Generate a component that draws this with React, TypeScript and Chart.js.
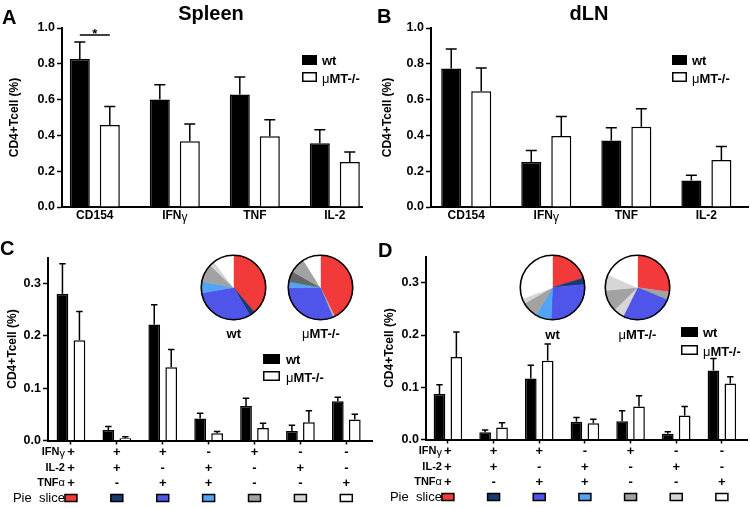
import React, { useEffect, useRef } from "react";
import { Chart, registerables } from "chart.js";

Chart.register(...registerables);

const FONT = "'Liberation Sans', Arial, Helvetica, sans-serif";
Chart.defaults.font.family = FONT;
Chart.defaults.color = "#000";

// ---------------- data ----------------
const seriesNames = ["wt", "μMT-/-"];
const yAxisTitle = "CD4+Tcell (%)";

const cytokineCategories = ["CD154", "IFNγ", "TNF", "IL-2"];
const abYTicks = [0, 0.2, 0.4, 0.6, 0.8, 1.0];

const spleenWt = [0.827, 0.6, 0.629, 0.356];
const spleenWtSem = [0.095, 0.083, 0.097, 0.076];
const spleenMu = [0.458, 0.367, 0.395, 0.251];
const spleenMuSem = [0.104, 0.097, 0.093, 0.056];

const dlnWt = [0.774, 0.252, 0.371, 0.148];
const dlnWtSem = [0.109, 0.063, 0.072, 0.03];
const dlnMu = [0.646, 0.397, 0.449, 0.262];
const dlnMuSem = [0.13, 0.108, 0.1, 0.076];

const cdYTicks = [0, 0.1, 0.2, 0.3];
const tableRowLabels = ["IFNγ", "IL-2", "TNFα"];
const ifngRow = ["+", "+", "+", "-", "+", "-", "-"];
const il2Row = ["+", "+", "-", "+", "-", "+", "-"];
const tnfRow = ["+", "-", "+", "+", "-", "-", "+"];
const pieSliceLabel = "Pie  slice";

const spleenPolyWt = [0.281, 0.02, 0.222, 0.042, 0.066, 0.018, 0.075];
const spleenPolyWtSem = [0.057, 0.007, 0.038, 0.01, 0.015, 0.011, 0.008];
const spleenPolyMu = [0.192, 0.0045, 0.14, 0.014, 0.024, 0.035, 0.04];
const spleenPolyMuSem = [0.055, 0.0025, 0.034, 0.003, 0.009, 0.022, 0.01];

const dlnPolyWt = [0.087, 0.014, 0.117, 0.034, 0.035, 0.011, 0.132];
const dlnPolyWtSem = [0.018, 0.004, 0.025, 0.008, 0.02, 0.004, 0.023];
const dlnPolyMu = [0.158, 0.023, 0.151, 0.031, 0.063, 0.046, 0.107];
const dlnPolyMuSem = [0.048, 0.009, 0.032, 0.008, 0.021, 0.017, 0.013];

// ---------------- styles ----------------
const RED = "#f23a3a";
const NAVY = "#183a72";
const BLUE = "#4f55e8";
const LBLUE = "#52a4f6";
const GRAY = "#a2a2a2";
const LGRAY = "#d6d6d6";
const DGRAY = "#666666";
const WHITE = "#ffffff";
const sliceBoxColors = [RED, NAVY, BLUE, LBLUE, GRAY, LGRAY, WHITE];

// ---------------- helpers ----------------
function drawRich(ctx: CanvasRenderingContext2D, text: string, x: number, y: number, align: string, size: number) {
  const parts: any[] = [];
  for (const ch of text) {
    const greek = "αγμ".includes(ch);
    const last = parts[parts.length - 1];
    if (last && last.greek === greek) last.t += ch;
    else parts.push({ t: ch, greek });
  }
  const fontOf = (p: any) => `${p.greek ? "normal" : "bold"} ${size}px ${FONT}`;
  let total = 0;
  parts.forEach((p) => {
    ctx.font = fontOf(p);
    p.w = ctx.measureText(p.t).width;
    total += p.w;
  });
  let cx = align === "left" ? x : align === "center" ? x - total / 2 : x - total;
  ctx.textAlign = "left";
  parts.forEach((p) => {
    ctx.font = fontOf(p);
    ctx.fillText(p.t, cx, y + (p.t.includes("γ") ? size * 0.2 : 0));
    cx += p.w;
  });
}

const errorBars = {
  id: "errorBars",
  afterDatasetsDraw(chart: any) {
    const ctx = chart.ctx;
    const ys = chart.scales.y;
    chart.data.datasets.forEach((ds: any, di: number) => {
      const meta = chart.getDatasetMeta(di);
      meta.data.forEach((el: any, j: number) => {
        const v = ds.data[j].y;
        const top = ys.getPixelForValue(v + ds.sem[j]);
        const cap = el.width * 0.55;
        ctx.save();
        ctx.strokeStyle = "#000";
        ctx.lineWidth = 1.5;
        ctx.beginPath();
        ctx.moveTo(el.x, el.y);
        ctx.lineTo(el.x, top);
        ctx.moveTo(el.x - cap / 2, top);
        ctx.lineTo(el.x + cap / 2, top);
        ctx.stroke();
        ctx.restore();
      });
    });
  },
};

function makeDecor(cfg: any) {
  return {
    id: "decor",
    afterDraw(chart: any) {
      const ctx = chart.ctx;
      const xs = chart.scales.x;
      const area = chart.chartArea;
      ctx.save();
      ctx.fillStyle = "#000";
      ctx.textBaseline = "alphabetic";
      // panel letter
      ctx.font = `bold 20px ${FONT}`;
      ctx.textAlign = "left";
      ctx.fillText(cfg.letter.text, cfg.letter.x, cfg.letter.y);
      if (cfg.title) {
        ctx.textAlign = "center";
        ctx.fillText(cfg.title.text, cfg.title.x, cfg.title.y);
      }
      // y title
      ctx.save();
      ctx.translate(cfg.yTitleX, (area.top + area.bottom) / 2);
      ctx.rotate(-Math.PI / 2);
      ctx.font = `bold 12px ${FONT}`;
      ctx.textAlign = "center";
      ctx.textBaseline = "middle";
      ctx.fillText(yAxisTitle, 0, 0);
      ctx.restore();

      const n = cfg.wt.length;
      const centers = Array.from({ length: n }, (_, i) => xs.getPixelForValue(i));

      if (cfg.categories) {
        ctx.textBaseline = "alphabetic";
        cfg.categories.forEach((c: string, i: number) => {
          drawRich(ctx, c, centers[i], area.bottom + cfg.catLabelDy, "center", 12);
        });
      }

      if (cfg.table) {
        const rows = [ifngRow, il2Row, tnfRow];
        const labelRight = centers[0] - 6;
        ctx.textBaseline = "middle";
        rows.forEach((row, r) => {
          const y = area.bottom + cfg.table[r];
          drawRich(ctx, tableRowLabels[r], labelRight, y, "right", 11);
          ctx.font = `bold 13px ${FONT}`;
          ctx.textAlign = "center";
          row.forEach((s, i) => ctx.fillText(s, centers[i], y));
        });
        const py = area.bottom + cfg.table[3];
        ctx.font = `normal 13px ${FONT}`;
        ctx.textAlign = "right";
        ctx.fillText(pieSliceLabel, labelRight, py);
        sliceBoxColors.forEach((col, i) => {
          ctx.fillStyle = col;
          ctx.fillRect(centers[i] - 6, py - 3.5, 12, 7);
          ctx.strokeStyle = "#000";
          ctx.lineWidth = 1.5;
          ctx.strokeRect(centers[i] - 6, py - 3.5, 12, 7);
        });
        ctx.fillStyle = "#000";
      }

      // legend
      const L = cfg.legend;
      ctx.fillStyle = "#000";
      ctx.fillRect(L.x, L.y1, L.w, L.h);
      ctx.fillStyle = "#fff";
      ctx.fillRect(L.x, L.y2, L.w, L.h);
      ctx.strokeStyle = "#000";
      ctx.lineWidth = 1.5;
      ctx.strokeRect(L.x + 0.75, L.y2 + 0.75, L.w - 1.5, L.h - 1.5);
      ctx.fillStyle = "#000";
      ctx.textBaseline = "alphabetic";
      drawRich(ctx, seriesNames[0], L.textX, L.y1 + L.h, "left", 13);
      drawRich(ctx, seriesNames[1], L.textX, L.y2 + L.h + 0.5, "left", 13);

      if (cfg.pieLabels) {
        cfg.pieLabels.forEach((p: any, i: number) => drawRich(ctx, seriesNames[i], p.x, p.y, "center", 13));
      }

      if (cfg.sig) {
        const x0 = chart.getDatasetMeta(0).data[0].x;
        const x1 = chart.getDatasetMeta(1).data[0].x;
        ctx.strokeStyle = "#000";
        ctx.lineWidth = 1.5;
        ctx.beginPath();
        ctx.moveTo(x0, cfg.sig.y);
        ctx.lineTo(x1, cfg.sig.y);
        ctx.stroke();
        ctx.font = `bold 13px ${FONT}`;
        ctx.textAlign = "center";
        ctx.fillText("*", (x0 + x1) / 2, cfg.sig.y + 3);
      }
      ctx.restore();
    },
  };
}

function BarPanel({ cfg }: { cfg: any }) {
  const ref = useRef<HTMLCanvasElement>(null);
  useEffect(() => {
    const idx = cfg.wt.map((_: number, i: number) => i);
    const chart = new Chart(ref.current as HTMLCanvasElement, {
      type: "bar",
      data: {
        datasets: [
          {
            label: seriesNames[0],
            data: idx.map((i: number) => ({ x: i, y: cfg.wt[i] })),
            backgroundColor: "#000",
            borderColor: "#000",
            borderWidth: 1.5,
            sem: cfg.wtSem,
          } as any,
          {
            label: seriesNames[1],
            data: idx.map((i: number) => ({ x: i, y: cfg.mu[i] })),
            backgroundColor: "#fff",
            borderColor: "#000",
            borderWidth: 1.5,
            sem: cfg.muSem,
          } as any,
        ],
      },
      options: {
        responsive: false,
        animation: false,
        events: [],
        layout: { padding: { left: 0, top: cfg.area.top, right: cfg.width - cfg.area.right, bottom: 0 } },
        datasets: { bar: { categoryPercentage: cfg.catPct, barPercentage: cfg.barPct } },
        plugins: { legend: { display: false }, tooltip: { enabled: false }, title: { display: false } },
        scales: {
          x: {
            type: "linear",
            min: cfg.xMin,
            max: cfg.xMax,
            offset: false,
            afterBuildTicks: (s: any) => {
              s.ticks = idx.map((v: number) => ({ value: v }));
            },
            afterFit: (s: any) => {
              s.height = cfg.height - cfg.area.bottom;
            },
            ticks: { display: false },
            grid: {
              display: true,
              offset: false,
              drawOnChartArea: false,
              drawTicks: cfg.xTickMarks,
              tickLength: 4,
              tickWidth: 1.5,
              tickColor: "#000",
            },
            border: { display: true, color: "#000", width: 2 },
          },
          y: {
            min: 0,
            max: cfg.yMax,
            afterBuildTicks: (s: any) => {
              s.ticks = cfg.yTicks.map((v: number) => ({ value: v }));
            },
            afterFit: (s: any) => {
              s.width = cfg.area.left;
            },
            ticks: {
              callback: (v: any) => Number(v).toFixed(1),
              font: { size: 12.5, weight: "bold" },
              color: "#000",
              padding: 2,
            },
            grid: {
              display: true,
              drawOnChartArea: false,
              drawTicks: true,
              tickLength: 5,
              tickWidth: 1.5,
              tickColor: "#000",
            },
            border: { display: true, color: "#000", width: 2 },
          },
        } as any,
      },
      plugins: [errorBars, makeDecor(cfg)],
    });
    return () => chart.destroy();
  }, []);
  return (
    <canvas
      ref={ref}
      width={cfg.width}
      height={cfg.height}
      style={{ position: "absolute", left: cfg.left, top: cfg.top, width: cfg.width, height: cfg.height }}
    />
  );
}

const pieOutline = {
  id: "pieOutline",
  afterDatasetsDraw(chart: any) {
    const el = chart.getDatasetMeta(0).data[0];
    if (!el) return;
    const ctx = chart.ctx;
    ctx.save();
    ctx.strokeStyle = "#000";
    ctx.lineWidth = 1.6;
    ctx.beginPath();
    ctx.arc(el.x, el.y, el.outerRadius, 0, Math.PI * 2);
    ctx.stroke();
    ctx.restore();
  },
};

function PieCanvas({ cfg }: { cfg: any }) {
  const ref = useRef<HTMLCanvasElement>(null);
  const pad = 3;
  const size = Math.round(cfg.r * 2 + pad * 2);
  useEffect(() => {
    const chart = new Chart(ref.current as HTMLCanvasElement, {
      type: "pie",
      data: {
        labels: tableRowLabels.concat(["a", "b", "c", "d"]),
        datasets: [
          {
            data: cfg.values,
            backgroundColor: cfg.colors,
            borderColor: cfg.colors,
            borderWidth: 0.5,
          },
        ],
      },
      options: {
        responsive: false,
        animation: false,
        events: [],
        layout: { padding: pad },
        plugins: { legend: { display: false }, tooltip: { enabled: false } },
      },
      plugins: [pieOutline],
    });
    return () => chart.destroy();
  }, []);
  return (
    <canvas
      ref={ref}
      width={size}
      height={size}
      style={{
        position: "absolute",
        left: Math.round(cfg.cx - size / 2),
        top: Math.round(cfg.cy - size / 2),
        width: size,
        height: size,
      }}
    />
  );
}

const panels = [
  {
    key: "A",
    left: 0, top: 0, width: 375, height: 240,
    area: { left: 62, right: 362, top: 28, bottom: 207 },
    xMin: -0.41, xMax: 3.34, yMax: 1, yTicks: abYTicks,
    wt: spleenWt, wtSem: spleenWtSem, mu: spleenMu, muSem: spleenMuSem,
    catPct: 0.75, barPct: 0.667,
    letter: { text: "A", x: 2, y: 24 },
    title: { text: "Spleen", x: 211, y: 19.5 },
    yTitleX: 15,
    categories: cytokineCategories, catLabelDy: 12,
    legend: { x: 302, w: 15, h: 10, y1: 55, y2: 72, textX: 322 },
    sig: { y: 35 },
    xTickMarks: false,
  },
  {
    key: "B",
    left: 375, top: 0, width: 375, height: 240,
    area: { left: 56, right: 373, top: 28, bottom: 207 },
    xMin: -0.44, xMax: 3.52, yMax: 1, yTicks: abYTicks,
    wt: dlnWt, wtSem: dlnWtSem, mu: dlnMu, muSem: dlnMuSem,
    catPct: 0.75, barPct: 0.667,
    letter: { text: "B", x: 2, y: 23 },
    title: { text: "dLN", x: 214, y: 19.5 },
    yTitleX: 13,
    categories: cytokineCategories, catLabelDy: 12,
    legend: { x: 297, w: 15, h: 10, y1: 55, y2: 72, textX: 317 },
    xTickMarks: false,
  },
  {
    key: "C",
    left: 0, top: 240, width: 375, height: 268,
    area: { left: 48, right: 372, top: 17.6, bottom: 200.5 },
    xMin: -0.5, xMax: 6.56, yMax: 0.35, yTicks: cdYTicks,
    wt: spleenPolyWt, wtSem: spleenPolyWtSem, mu: spleenPolyMu, muSem: spleenPolyMuSem,
    catPct: 0.74, barPct: 0.69,
    letter: { text: "C", x: 0, y: 15 },
    yTitleX: 13,
    table: [11.5, 27.5, 42.5, 57.5],
    legend: { x: 263, w: 17, h: 10, y1: 114, y2: 131, textX: 286 },
    pieLabels: [{ x: 233.8, y: 98 }, { x: 320.8, y: 98 }],
    xTickMarks: true,
  },
  {
    key: "D",
    left: 375, top: 240, width: 375, height: 268,
    area: { left: 51, right: 372, top: 16.7, bottom: 199.5 },
    xMin: -0.48, xMax: 6.55, yMax: 0.35, yTicks: cdYTicks,
    wt: dlnPolyWt, wtSem: dlnPolyWtSem, mu: dlnPolyMu, muSem: dlnPolyMuSem,
    catPct: 0.74, barPct: 0.69,
    letter: { text: "D", x: 3, y: 17 },
    yTitleX: 15,
    table: [11.5, 27.5, 42.5, 57.5],
    legend: { x: 306, w: 17, h: 10, y1: 87, y2: 105, textX: 328 },
    pieLabels: [{ x: 177.5, y: 99 }, { x: 262.5, y: 99 }],
    xTickMarks: true,
  },
];

const pies = [
  { cx: 233.8, cy: 287.8, r: 32.5, values: spleenPolyWt, colors: [RED, NAVY, BLUE, LBLUE, GRAY, LGRAY, WHITE] },
  { cx: 320.8, cy: 287.8, r: 32.5, values: spleenPolyMu, colors: [RED, "#b4b4b4", BLUE, LBLUE, DGRAY, GRAY, WHITE] },
  { cx: 552.5, cy: 287.5, r: 32.5, values: dlnPolyWt, colors: [RED, NAVY, BLUE, LBLUE, GRAY, LGRAY, WHITE] },
  { cx: 637.5, cy: 287.5, r: 32.5, values: dlnPolyMu, colors: [RED, GRAY, BLUE, LGRAY, GRAY, LGRAY, WHITE] },
];

export default function App() {
  return (
    <div style={{ position: "absolute", left: 0, top: 0, width: 750, height: 508, background: "#fff", overflow: "hidden" }}>
      {panels.map((p) => (
        <BarPanel key={p.key} cfg={p} />
      ))}
      {pies.map((p, i) => (
        <PieCanvas key={i} cfg={p} />
      ))}
    </div>
  );
}
